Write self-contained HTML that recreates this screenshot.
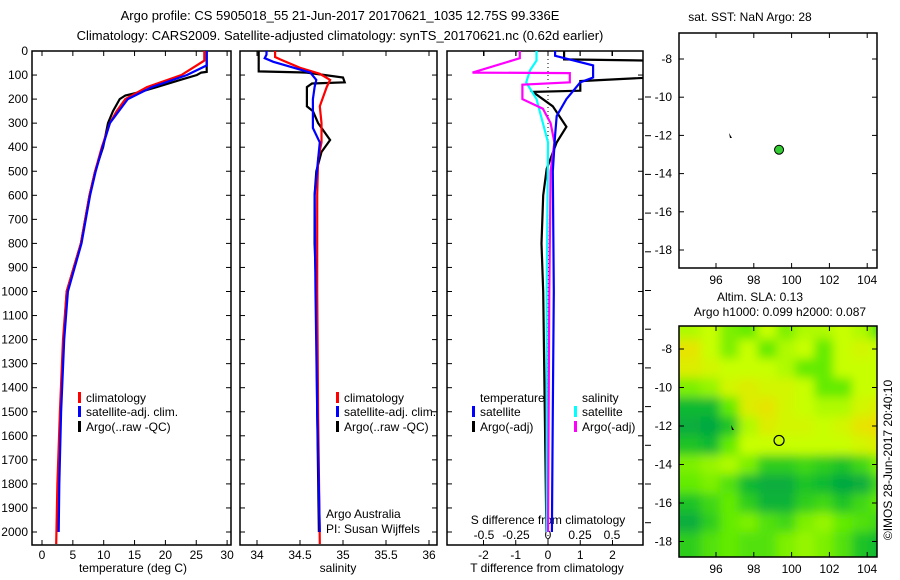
<!DOCTYPE html>
<html><head><meta charset="utf-8">
<style>
html,body{margin:0;padding:0;background:#fff;}
svg{display:block;font-family:"Liberation Sans",sans-serif;font-size:12px;}
</style></head>
<body>
<svg id="fig" width="900" height="580" viewBox="0 0 900 580">
<defs>
<clipPath id="c1"><rect x="32" y="51" width="199" height="494"/></clipPath>
<clipPath id="c2"><rect x="240" y="51" width="197" height="494"/></clipPath>
<clipPath id="c3"><rect x="447" y="51" width="196" height="494"/></clipPath>
<clipPath id="cm"><rect x="679" y="326" width="198" height="231"/></clipPath>
<filter id="bl" x="-5%" y="-5%" width="110%" height="110%"><feGaussianBlur stdDeviation="5"/></filter>
</defs>
<text x="340" y="20" text-anchor="middle" font-size="13">Argo profile: CS 5905018_55 21-Jun-2017 20170621_1035 12.75S 99.336E</text>
<text x="340" y="40" text-anchor="middle" font-size="13">Climatology: CARS2009. Satellite-adjusted climatology: synTS_20170621.nc (0.62d earlier)</text>
<g id="g1"></g>
<g id="g2"></g>
<g id="g3"></g>
<g id="gm1"></g>
<g id="gm2"></g>
<text transform="translate(892,460) rotate(-90)" text-anchor="middle">©IMOS 28-Jun-2017 20:40:10</text>
</svg>
<script>
// ---- data ----
const depthTicks=[0,100,200,300,400,500,600,700,800,900,1000,1100,1200,1300,1400,1500,1600,1700,1800,1900,2000];
const tempTicks=[0,5,10,15,20,25,30];
const salTicks=[34,34.5,35,35.5,36];
const salTickLabels=["34","34.5","35","35.5","36"];
const tdTicks=[-2,-1,0,1,2];
const sdTicks=[-0.5,-0.25,0,0.25,0.5];
const sdTickLabels=["-0.5","-0.25","0","0.25","0.5"];
const tDepC=[0,40,100,150,200,250,300,400,500,600,700,800,1000,1200,1500,1800,2050];
const tClim=[26.3,26.3,22.6,17.0,13.5,12.1,11.0,9.7,8.6,7.7,7.0,6.3,4.0,3.4,2.9,2.5,2.3];
const tDepS=[0,60,100,150,200,300,400,500,600,700,800,1000,1200,1500,1800,2000];
const tSat=[26.7,26.7,23.5,17.8,13.9,11.0,9.8,8.7,7.8,7.1,6.4,4.2,3.6,3.1,2.8,2.7];
const tDepA=[0,87,90,100,120,150,170,185,200,250,300,400,500,600,700,800,1000,1200,1500,1800,2000];
const tArgo=[26.7,26.7,25.8,25.1,22.4,18.6,15.9,13.5,12.6,11.5,10.7,9.9,8.6,7.7,7.0,6.3,4.0,3.5,3.0,2.7,2.5];
const sDepC=[0,25,35,70,95,120,150,230,300,380,450,600,1000,1500,2050];
const sClim=[34.21,34.21,34.27,34.5,34.73,34.85,34.81,34.73,34.75,34.75,34.71,34.7,34.7,34.71,34.73];
const sDepS=[0,15,30,45,65,90,120,150,200,320,380,450,600,1000,1500,2000];
const sSat=[34.11,34.11,34.09,34.19,34.38,34.62,34.69,34.67,34.65,34.65,34.73,34.71,34.67,34.68,34.7,34.73];
const sDepA=[0,85,89,90,110,130,135,150,230,250,300,370,420,500,600,800,1000,1500,2000];
const sArgo=[34.02,34.02,34.5,34.58,35.0,35.02,34.64,34.58,34.58,34.65,34.71,34.85,34.75,34.69,34.67,34.67,34.69,34.7,34.72];
const dTDepA=[0,35,40,110,125,165,170,230,315,380,490,600,800,1000,1500,2000];
const dTArgo=[0.5,0.5,3.2,3.2,1.0,1.0,-0.47,0.15,0.57,0.27,-0.04,-0.15,-0.2,-0.15,-0.1,-0.05];
const dTDepS=[0,20,60,110,130,200,270,350,500,1000,1500,2000];
const dTSat=[0.22,0.22,1.4,1.4,1.0,0.57,0.27,0.22,0.15,0.18,0.15,0.12];
const dSDepA=[0,30,90,92,130,140,200,240,300,380,500,1000,2000];
const dSArgo=[-0.22,-0.22,-0.59,0.17,0.17,-0.2,-0.2,-0.04,0.02,0.05,0.02,0.01,0.0];
const dSDepS=[0,40,80,130,200,300,380,1000,2000];
const dSSat=[-0.09,-0.09,-0.14,-0.17,-0.09,-0.04,0,-0.01,-0.01];
const mapLonTicks=[96,98,100,102,104];
const mapLatTicks=[-8,-10,-12,-14,-16,-18];
const argoLon=[99.336];
const argoLat=[-12.75];
const slaLons=[94.7,95.7,96.7,97.7,98.7,99.7,100.7,101.7,102.7,103.7,104.7];
const slaLats=[-7,-8,-9,-10,-11,-12,-13,-14,-15,-16,-17,-18];
const slaGrid=[
[0.7,0.75,0.6,0.55,0.75,0.6,0.7,0.7,0.75,0.7,0.5],
[0.9,0.75,0.6,0.75,0.55,0.7,0.75,0.55,0.75,0.8,0.75],
[0.85,0.8,0.75,0.75,0.75,0.7,0.55,0.55,0.75,0.75,0.75],
[0.6,0.65,0.8,0.85,0.8,0.8,0.75,0.55,0.55,0.75,0.75],
[0.3,0.3,0.55,0.85,0.9,0.8,0.75,0.7,0.7,0.8,0.85],
[0.2,0.15,0.35,0.7,0.85,0.8,0.8,0.75,0.8,0.9,0.95],
[0.35,0.3,0.55,0.75,0.75,0.75,0.75,0.75,0.75,0.8,0.85],
[0.6,0.65,0.7,0.6,0.4,0.4,0.45,0.4,0.35,0.45,0.6],
[0.55,0.6,0.5,0.3,0.2,0.2,0.35,0.3,0.15,0.2,0.45],
[0.35,0.45,0.55,0.4,0.25,0.25,0.4,0.45,0.35,0.45,0.55],
[0.2,0.4,0.55,0.6,0.5,0.45,0.6,0.65,0.55,0.5,0.45],
[0.4,0.5,0.55,0.5,0.5,0.6,0.65,0.6,0.5,0.35,0.3]];

// ---- scales ----
const NS="http://www.w3.org/2000/svg";
const yD=d=>51+d*0.2405;
const xT=t=>42+t*6.17;
const xS=s=>257+(s-34)*86;
const xdT=v=>548+v*32.25;
const xdS=v=>548+v*128;
const mx=l=>716+(l-96)*18.9;
const myTop=l=>59+(-8-l)*19.1;
const myBot=l=>349+(-8-l)*19.25;

function mk(tag,attrs,parent){const e=document.createElementNS(NS,tag);for(const k in attrs)e.setAttribute(k,attrs[k]);parent.appendChild(e);return e;}
function txt(s,x,y,anchor,parent){const e=mk('text',{x:x,y:y,'text-anchor':anchor},parent);e.textContent=s;return e;}

function frame(g,x0,y0,x1,y1){
  const r=mk('rect',{x:x0,y:y0,width:x1-x0,height:y1-y0,fill:'none',stroke:'#000','stroke-width':1.5},g);
  
  
}
function series(g,clip,deps,vals,xf,color,name){
  const pts=deps.map((d,i)=>xf(vals[i]).toFixed(1)+','+yD(d).toFixed(1)).join(' ');
  const p=mk('polyline',{points:pts,fill:'none',stroke:color,'stroke-width':2.2,'clip-path':'url(#'+clip+')'},g);
  
  
}
function depthAxis(g,x0,x1,labels){
  depthTicks.forEach(d=>{
    const y=yD(d);
    mk('line',{x1:x0,y1:y,x2:x0+5,y2:y,stroke:'#000'},g);
    mk('line',{x1:x1,y1:y,x2:x1-5,y2:y,stroke:'#000'},g);
    if(labels){const t=txt(String(d),28,y+4,'end',g);
      
      }
  });
}
function xAxis(g,ticks,labels,xf,y0,y1,title,tx){
  ticks.forEach((v,i)=>{
    const x=xf(v);
    mk('line',{x1:x,y1:y1,x2:x,y2:y1-5,stroke:'#000'},g);
    mk('line',{x1:x,y1:y0,x2:x,y2:y0+5,stroke:'#000'},g);
    const t=txt(labels[i],x,y1+14,'middle',g);
    
    
  });
  const t=txt(title,tx,572,'middle',g);
  
  
}
function legend(g,x,y,color,label){
  const b=mk('rect',{x:x,y:y-10,width:3,height:11,fill:color},g);
  
  
  const t=txt(label,x+8,y,'start',g);
  
  
}

// Panel 1
const g1=document.getElementById('g1');
frame(g1,32,51,231,545);
depthAxis(g1,32,231,true);
xAxis(g1,tempTicks,tempTicks.map(String),xT,51,545,'temperature (deg C)',133);
series(g1,'c1',tDepA,tArgo,xT,'#000','temp-argo-line');
series(g1,'c1',tDepC,tClim,xT,'#f00','temp-climatology-line');
series(g1,'c1',tDepS,tSat,xT,'#00f','temp-satellite-line');
legend(g1,78,402,'#f00','climatology');
legend(g1,78,416,'#00f','satellite-adj. clim.');
legend(g1,78,431,'#000','Argo(..raw -QC)');

// Panel 2
const g2=document.getElementById('g2');
frame(g2,240,51,437,545);
depthAxis(g2,240,437,false);
xAxis(g2,salTicks,salTickLabels,xS,51,545,'salinity',338);
series(g2,'c2',sDepA,sArgo,xS,'#000','sal-argo-line');
series(g2,'c2',sDepC,sClim,xS,'#f00','sal-climatology-line');
series(g2,'c2',sDepS,sSat,xS,'#00f','sal-satellite-line');
legend(g2,336,402,'#f00','climatology');
legend(g2,336,416,'#00f','satellite-adj. clim.');
legend(g2,336,431,'#000','Argo(..raw -QC)');
let t=txt('Argo Australia',326,518,'start',g2);


t=txt('PI: Susan Wijffels',326,533,'start',g2);



// Panel 3
const g3=document.getElementById('g3');
frame(g3,447,51,643,545);
depthAxis(g3,447,643,false);
xAxis(g3,tdTicks,tdTicks.map(String),xdT,51,545,'T difference from climatology',547);
sdTicks.forEach(v=>{const x=xdS(v);mk('line',{x1:x,y1:51,x2:x,y2:56,stroke:'#000'},g3);});
sdTicks.forEach((v,i)=>{const e=txt(sdTickLabels[i],xdS(v),539,'middle',g3);
  
  });
t=txt('S difference from climatology',548,524,'middle',g3);


mk('line',{x1:548,y1:51,x2:548,y2:545,stroke:'#000','stroke-dasharray':'1,3'},g3);
series(g3,'c3',dTDepA,dTArgo,xdT,'#000','tdiff-argo-line');
series(g3,'c3',dSDepS,dSSat,xdS,'#0ff','sdiff-satellite-line');
series(g3,'c3',dSDepA,dSArgo,xdS,'#f0f','sdiff-argo-line');
series(g3,'c3',dTDepS,dTSat,xdT,'#00f','tdiff-satellite-line');
t=txt('temperature',480,402,'start',g3);


t=txt('salinity',582,402,'start',g3);


legend(g3,472,416,'#00f','satellite');
legend(g3,472,431,'#000','Argo(-adj)');
legend(g3,574,416,'#0ff','satellite');
legend(g3,574,431,'#f0f','Argo(-adj)');
for(let i=0;i<12;i++){const y=97+i*38.7;mk('line',{x1:645,y1:y,x2:651,y2:y,stroke:'#000'},g3);}

// Map axes helper
function mapAxes(g,y0,y1,myf){
  frame(g,679,y0,877,y1);
  mapLonTicks.forEach(l=>{const x=mx(l);
    mk('line',{x1:x,y1:y1,x2:x,y2:y1-5,stroke:'#000'},g);
    mk('line',{x1:x,y1:y0,x2:x,y2:y0+5,stroke:'#000'},g);
    const e=txt(String(l),x,y1+16,'middle',g);
    
    });
  mapLatTicks.forEach(l=>{const y=myf(l);
    mk('line',{x1:679,y1:y,x2:684,y2:y,stroke:'#000'},g);
    mk('line',{x1:877,y1:y,x2:872,y2:y,stroke:'#000'},g);
    const e=txt(String(l),672,y+4,'end',g);
    
    });
}
// Top map
const gm1=document.getElementById('gm1');
t=txt('sat. SST: NaN Argo: 28',750,21,'middle',gm1);


mapAxes(gm1,33,268,myTop);
mk('path',{d:'M729 133 l3 5 l-2 0 z',fill:'#000'},gm1);
argoLon.forEach((l,i)=>{const c=mk('circle',{cx:mx(l),cy:myTop(argoLat[i]),r:4.5,fill:'#33cc33',stroke:'#000','stroke-width':1},gm1);
  
  });

// Bottom map
const gm2=document.getElementById('gm2');
t=txt('Altim. SLA: 0.13',760,301,'middle',gm2);


t=txt('Argo h1000: 0.099 h2000: 0.087',780,316,'middle',gm2);


function cmap(v){
  const stops=[[0,[0,150,80]],[0.3,[10,185,50]],[0.55,[100,235,0]],[0.75,[200,255,0]],[1,[250,210,0]]];
  for(let i=1;i<stops.length;i++){if(v<=stops[i][0]){const a=stops[i-1],b=stops[i];const f=(v-a[0])/(b[0]-a[0]);
    return 'rgb('+a[1].map((c,k)=>Math.round(c+(b[1][k]-c)*f)).join(',')+')';}}
  return 'rgb(250,210,0)';
}
const hm=mk('g',{'clip-path':'url(#cm)'},gm2);
const hmIn=mk('g',{filter:'url(#bl)'},hm);
mk('rect',{x:670,y:315,width:215,height:250,fill:cmap(0.6)},hmIn);
slaLats.forEach((la,r)=>slaLons.forEach((lo,c)=>{
  let x0=mx(lo-0.5),x1=mx(lo+0.5),y0=myBot(la+0.5),y1=myBot(la-0.5);
  if(c===0)x0-=20; if(c===slaLons.length-1)x1+=20;
  if(r===0)y0-=20; if(r===slaLats.length-1)y1+=20;
  const cell=mk('rect',{x:x0,y:y0,width:x1-x0+0.5,height:y1-y0+0.5,fill:cmap(slaGrid[r][c])},hmIn);
  
  
}));
mapAxes(gm2,326,557,myBot);
mk('path',{d:'M731 425 l3 5 l-2 0 z',fill:'#000'},gm2);
argoLon.forEach((l,i)=>{const c=mk('circle',{cx:mx(l),cy:myBot(argoLat[i]),r:5,fill:'none',stroke:'#000','stroke-width':1.2},gm2);
  
  });
</script>
</body></html>
